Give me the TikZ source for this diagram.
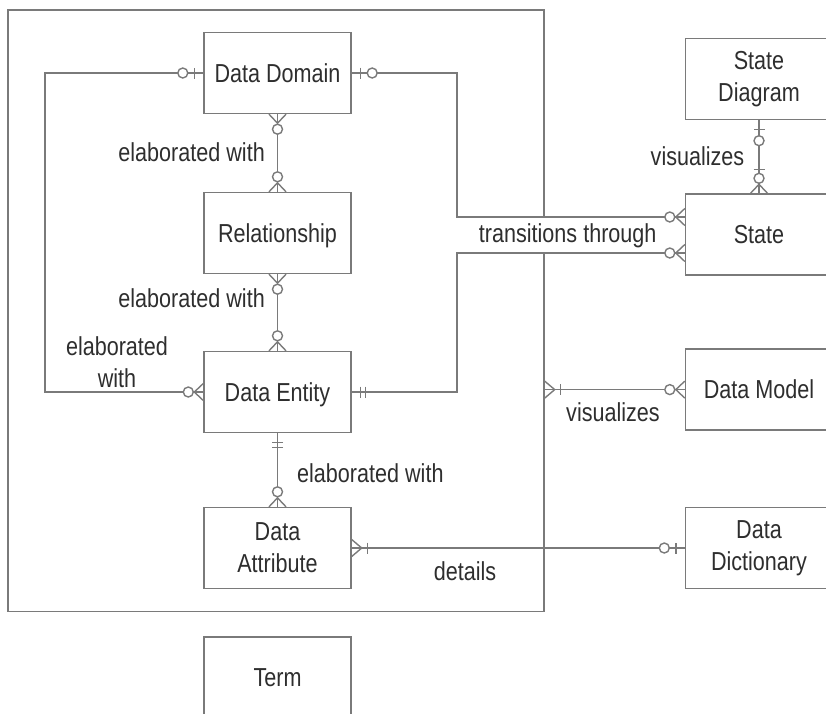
\documentclass[tikz,border=0pt]{standalone}
\usepackage{fontspec}
\setmainfont{Liberation Sans}[FakeStretch=0.83]
\usetikzlibrary{calc}
\definecolor{erline}{HTML}{7A7A7A}
\definecolor{ertext}{HTML}{2E2E2E}
\newcommand\erfont{\fontsize{26}{32}\selectfont}
\tikzset{
  conn/.style={draw=erline, line width=1.4pt},
  entity/.style={draw=erline, line width=1.4pt, fill=white, minimum width=147pt,
    minimum height=81pt, inner sep=0pt, align=center, text=ertext, font=\erfont},
  oneline/.style={text height=18.6pt, text depth=0pt},
  lbl/.style={text=ertext, font=\erfont, inner sep=0pt, align=center},
  % ER end marks, drawn outward from the entity edge along +x
  pics/zeroone/.style={code={
    \draw[conn] (9,-5.5) -- (9,5.5);
    \draw[conn, fill=white] (20.5,0) circle[radius=5pt];}},
  pics/zeromany/.style={code={
    \draw[conn] (0,8.5) -- (9,0);
    \draw[conn] (0,-8.5) -- (9,0);
    \draw[conn, fill=white] (15,0) circle[radius=5pt];}},
  pics/zeromanybar/.style={code={
    \draw[conn] (0,8.5) -- (9,0);
    \draw[conn] (0,-8.5) -- (9,0);
    \draw[conn, fill=white] (15,0) circle[radius=5pt];
    \draw[conn] (24,-5.5) -- (24,5.5);}},
  pics/onemany/.style={code={
    \draw[conn] (0,8.5) -- (10,0);
    \draw[conn] (0,-8.5) -- (10,0);
    \draw[conn] (16,-5.5) -- (16,5.5);}},
  pics/onlyone/.style={code={
    \draw[conn] (9,-5.5) -- (9,5.5);
    \draw[conn] (14,-5.5) -- (14,5.5);}},
}
\begin{document}
\begin{tikzpicture}[x=1pt, y=-1pt]
\useasboundingbox (0,0) rectangle (826,713);

% grouping frame
\node[draw=erline, line width=1.4pt, minimum width=536pt, minimum height=601.5pt,
  inner sep=0pt] (grp) at (276,310.75) {};

% label that sits across the frame edge
\node[lbl, fill=white, text height=18.6pt, text depth=5.4pt, minimum height=36pt,
  inner xsep=3pt] (ltr) at (567.7,236) {transitions through};

% entities
\node[entity, oneline] (dd) at (277.5,73) {Data Domain};
\node[entity, oneline] (rel) at (277.5,233) {Relationship};
\node[entity, oneline] (de) at (277.5,392) {Data Entity};
\node[entity] (da) at (277.5,548) {Data\\Attribute};
\node[entity, oneline] (term) at (277.5,677.5) {Term};
\node[entity] (sd) at (759,79) {State\\Diagram};
\node[entity, oneline] (st) at (759,234.5) {State};
\node[entity, oneline] (dm) at (759,389.6) {Data Model};
\node[entity] (dict) at (759,548) {Data\\Dictionary};

% routing helpers
\coordinate (loopx) at (45,0);
\coordinate (routex) at (457,0);
\coordinate (stin1) at ($(st.west)+(0,-17.5)$);
\coordinate (stin2) at ($(st.west)+(0,18.5)$);
\coordinate (dmin) at (grp.east |- dm.west);

% connectors
\draw[conn] (dd.west) -- (dd.west -| loopx) -- (loopx |- de.west) -- (de.west);
\draw[conn] (dd.east) -- (dd.east -| routex) -- (routex |- stin1) -- (stin1);
\draw[conn] (de.east) -- (de.east -| routex) -- (routex |- stin2) -- (stin2);
\draw[conn] (dd.south) -- (rel.north);
\draw[conn] (rel.south) -- (de.north);
\draw[conn] (de.south) -- (da.north);
\draw[conn] (da.east) -- (dict.west);
\draw[conn] (sd.south) -- (st.north);
\draw[conn] (dmin) -- (dm.west);

% end marks
\pic[rotate=180] at (dd.west) {zeroone};
\pic at (dd.east) {zeroone};
\pic[rotate=-90] at (dd.south) {zeromany};
\pic[rotate=90] at (rel.north) {zeromany};
\pic[rotate=-90] at (rel.south) {zeromany};
\pic[rotate=90] at (de.north) {zeromany};
\pic[rotate=180] at (de.west) {zeromany};
\pic at (de.east) {onlyone};
\pic[rotate=-90] at (de.south) {onlyone};
\pic[rotate=90] at (da.north) {zeromany};
\pic at (da.east) {onemany};
\pic[rotate=180] at (dict.west) {zeroone};
\pic[rotate=-90] at (sd.south) {zeroone};
\pic[rotate=90] at (st.north) {zeromanybar};
\pic[rotate=180] at (stin1) {zeromany};
\pic[rotate=180] at (stin2) {zeromany};
\pic at (dmin) {onemany};
\pic[rotate=180] at (dm.west) {zeromany};

% relationship labels
\node[lbl, anchor=base east] (l1) at (265,161.5) {elaborated with};
\node[lbl, anchor=base east] (l2) at (265,307.5) {elaborated with};
\node[lbl] (l3) at (117,362) {elaborated\\with};
\node[lbl, anchor=base west] (l4) at (297,482) {elaborated with};
\node[lbl, anchor=base] (l5) at (465,580.5) {details};
\node[lbl, anchor=base] (l6) at (697.5,165.5) {visualizes};
\node[lbl, anchor=base] (l7) at (613,421) {visualizes};
\end{tikzpicture}
\end{document}
